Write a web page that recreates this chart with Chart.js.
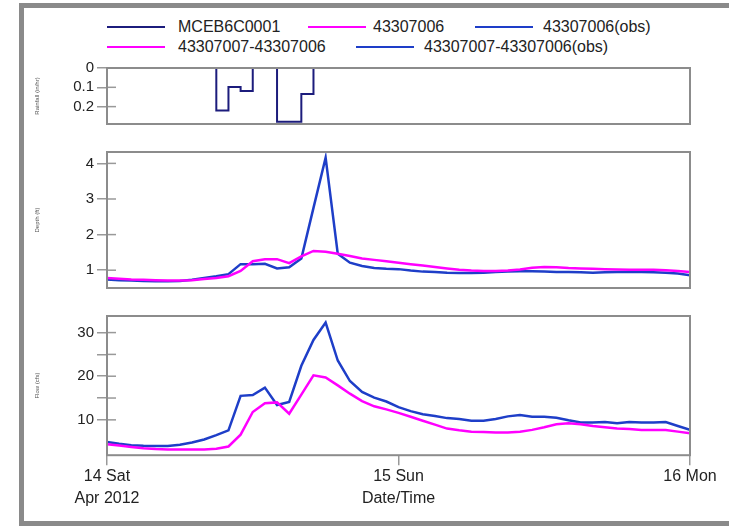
<!DOCTYPE html>
<html>
<head>
<meta charset="utf-8">
<script src="https://cdn.jsdelivr.net/npm/chart.js@4.4.1/dist/chart.umd.min.js"></script>
<style>
  html, body { margin: 0; padding: 0; background: #fff; }
  #page { position: relative; width: 729px; height: 526px; overflow: hidden; font-family: "Liberation Sans", Arial, sans-serif; }
  #frame { position: absolute; left: 19px; top: 3px; width: 760px; height: 513px; border: 5px solid #8a8a8a; border-right: none; }
  .lg { position: absolute; font-size: 16px; color: #222; white-space: nowrap; line-height: 20px; }
  .lg i { position: absolute; top: 9px; width: 58px; height: 2px; }
  canvas { position: absolute; left: 0; }
</style>
</head>
<body>
<div id="page">
  <div id="frame"></div>
  <div id="legend"></div>
  <canvas id="rainCanvas" width="729" height="80" style="top:56px"></canvas>
  <canvas id="depthCanvas" width="729" height="160" style="top:140px"></canvas>
  <canvas id="flowCanvas" width="729" height="214" style="top:304px"></canvas>
</div>
<script>
// --- data: hourly values, 14 Apr 2012 00:00 .. 16 Apr 2012 00:00 ---
const hours = Array.from({ length: 49 }, (_, i) => i);
const xTickHours = [0, 24, 48];
const xTickLabels = [["14 Sat", "Apr 2012"], "15 Sun", "16 Mon"];

// rainfall MCEB6C0001 (in/hr), value holds for the hour that starts at that point
const rainMCEB6C0001 = [
  0, 0, 0, 0, 0, 0, 0, 0, 0, 0.22, 0.099, 0.119, 0, 0, 0.278, 0.278, 0.134, 0,
  0, 0, 0, 0, 0, 0, 0, 0, 0, 0, 0, 0, 0, 0, 0, 0, 0, 0, 0, 0, 0, 0, 0, 0, 0, 0,
  0, 0, 0, 0, 0
];

// depth (ft) at 43307006
const depthModel = [
  0.78, 0.76, 0.74, 0.73, 0.72, 0.71, 0.71, 0.72, 0.75, 0.78, 0.83, 0.98, 1.25,
  1.31, 1.31, 1.20, 1.39, 1.54, 1.52, 1.46, 1.40, 1.33, 1.29, 1.25, 1.21, 1.17,
  1.13, 1.09, 1.05, 1.01, 0.99, 0.98, 0.98, 0.99, 1.02, 1.07, 1.09, 1.08, 1.06,
  1.05, 1.04, 1.03, 1.02, 1.01, 1.01, 1.01, 1.00, 0.98, 0.95
];
const depthObs = [
  0.74, 0.72, 0.71, 0.70, 0.69, 0.69, 0.70, 0.73, 0.78, 0.83, 0.89, 1.17, 1.17,
  1.18, 1.05, 1.08, 1.33, 2.75, 4.16, 1.46, 1.21, 1.12, 1.06, 1.04, 1.03, 0.99,
  0.96, 0.95, 0.93, 0.92, 0.92, 0.93, 0.95, 0.96, 0.97, 0.97, 0.96, 0.95, 0.95,
  0.94, 0.93, 0.94, 0.95, 0.95, 0.95, 0.94, 0.93, 0.91, 0.86
];

// flow (cfs) in link 43307007-43307006
const flowModel = [
  4.4, 4.1, 3.8, 3.5, 3.3, 3.2, 3.2, 3.2, 3.2, 3.4, 3.9, 6.6, 11.8, 13.8, 14.0,
  11.4, 15.8, 20.2, 19.7, 17.9, 16.0, 14.3, 13.1, 12.4, 11.6, 10.7, 9.8, 8.9,
  8.0, 7.6, 7.3, 7.2, 7.1, 7.1, 7.3, 7.7, 8.3, 9.0, 9.2, 9.0, 8.6, 8.3, 8.0, 7.9,
  7.7, 7.7, 7.7, 7.3, 6.9
];
const flowObs = [
  4.9, 4.5, 4.2, 4.05, 4.0, 4.0, 4.3, 4.8, 5.5, 6.5, 7.6, 15.5, 15.7, 17.4, 13.4,
  14.1, 22.4, 28.3, 32.3, 23.6, 18.9, 16.4, 15.1, 14.2, 12.9, 12.0, 11.3, 10.9,
  10.4, 10.2, 9.8, 9.8, 10.2, 10.8, 11.1, 10.7, 10.7, 10.5, 9.9, 9.4, 9.4, 9.5,
  9.2, 9.5, 9.4, 9.4, 9.5, 8.6, 7.7
];

const rainTicks = [0, 0.1, 0.2];
const depthTicks = [1, 2, 3, 4];
const flowTicks = [10, 15, 20, 25, 30];
const flowLabelled = [10, 20, 30];

const legendNames = ["MCEB6C0001", "43307006", "43307006(obs)", "43307007-43307006", "43307007-43307006(obs)"];

// --- styles ---
const NAVY = "#1c1c7c";
const PINK = "#ff00ff";
const BLUE = "#1e3ec8";
const legendColors = [NAVY, PINK, BLUE, PINK, BLUE];
const legendPos = [[107, 178, 17], [308, 373, 17], [475, 543, 17], [107, 178, 37], [356, 424, 37]];

Chart.defaults.font.family = '"Liberation Sans", Arial, sans-serif';
Chart.defaults.color = "#222";
Chart.defaults.animation = false;

// --- legend (HTML) ---
const legend = document.getElementById("legend");
legendNames.forEach((name, i) => {
  const [lineX, textX, top] = legendPos[i];
  const line = document.createElement("div");
  line.className = "lg";
  line.style.left = lineX + "px";
  line.style.top = top + "px";
  line.innerHTML = `<i style="left:0;background:${legendColors[i]}"></i>`;
  legend.appendChild(line);
  const txt = document.createElement("div");
  txt.className = "lg";
  txt.style.left = textX + "px";
  txt.style.top = top + "px";
  txt.textContent = name;
  legend.appendChild(txt);
});

// frame round each panel + the inner half of the y tick marks
const panelFrame = {
  id: "panelFrame",
  afterDatasetsDraw(chart) {
    const { ctx, chartArea: a, scales } = chart;
    ctx.save();
    ctx.strokeStyle = "#999";
    ctx.lineWidth = 1.5;
    scales.y.ticks.forEach(t => {
      const y = scales.y.getPixelForValue(t.value);
      ctx.beginPath();
      ctx.moveTo(a.left, y);
      ctx.lineTo(a.left + 9, y);
      ctx.stroke();
    });
    ctx.strokeStyle = "#8c8c8c";
    ctx.lineWidth = 2;
    ctx.strokeRect(a.left, a.top, a.right - a.left, a.bottom - a.top);
    ctx.restore();
  }
};

function points(values) {
  return values.map((v, i) => ({ x: hours[i], y: v }));
}

function yAxis(title, min, max, tickValues, labelFn, reverse) {
  return {
    min, max, reverse: !!reverse,
    afterFit: s => { s.width = 77; },
    afterBuildTicks: s => { s.ticks = tickValues.map(v => ({ value: v })); },
    border: { display: false },
    grid: { drawOnChartArea: false, drawTicks: true, tickLength: 10, color: "#999", lineWidth: 1.5 },
    ticks: { font: { size: 15 }, padding: 3, callback: labelFn },
    title: { display: true, text: title, font: { size: 6 }, color: "#555", padding: { top: 4, bottom: 0 } }
  };
}

function hiddenX() {
  return { type: "linear", min: 0, max: 48, display: false };
}

function lineSet(label, values, color) {
  return {
    label, data: points(values), borderColor: color, backgroundColor: color,
    borderWidth: 2.5, pointRadius: 0, tension: 0
  };
}

function baseOptions(padding, scales) {
  return {
    responsive: false,
    layout: { padding },
    plugins: { legend: { display: false }, tooltip: { enabled: false } },
    scales
  };
}

// RAINFALL panel
new Chart(document.getElementById("rainCanvas"), {
  type: "line",
  data: {
    datasets: [{ ...lineSet("MCEB6C0001", rainMCEB6C0001, NAVY), borderWidth: 2, stepped: true }]
  },
  options: baseOptions({ left: 30, right: 39, top: 10, bottom: 4 }, {
    x: hiddenX(),
    y: yAxis("Rainfall (in/hr)", 0, 0.29, rainTicks, v => String(v), true)
  }),
  plugins: [panelFrame]
});

// DEPTH panel
new Chart(document.getElementById("depthCanvas"), {
  type: "line",
  data: {
    datasets: [
      lineSet("43307006", depthModel, PINK),
      lineSet("43307006(obs)", depthObs, BLUE)
    ]
  },
  options: baseOptions({ left: 30, right: 39, top: 11, bottom: 5 }, {
    x: hiddenX(),
    y: yAxis("Depth (ft)", 0.5, 4.32, depthTicks, v => String(v))
  }),
  plugins: [panelFrame]
});

// FLOW panel
new Chart(document.getElementById("flowCanvas"), {
  type: "line",
  data: {
    datasets: [
      lineSet("43307007-43307006", flowModel, PINK),
      lineSet("43307007-43307006(obs)", flowObs, BLUE)
    ]
  },
  options: baseOptions({ left: 30, right: 39, top: 10, bottom: 8 }, {
    x: {
      type: "linear", min: 0, max: 48,
      afterBuildTicks: s => { s.ticks = xTickHours.map(v => ({ value: v })); },
      border: { display: false },
      grid: { drawOnChartArea: false, drawTicks: true, tickLength: 10, color: "#999", lineWidth: 1.5 },
      ticks: {
        autoSkip: false, maxRotation: 0, padding: 0,
        font: { size: 16, lineHeight: 1.4 },
        callback: (v, i) => xTickLabels[i]
      },
      title: {
        display: true, text: "Date/Time",
        font: { size: 16, lineHeight: 1.4 },
        padding: { top: -22.4, bottom: 0 }
      }
    },
    y: yAxis("Flow (cfs)", 1.9, 33.8, flowTicks, v => flowLabelled.includes(v) ? String(v) : "")
  }),
  plugins: [panelFrame]
});
</script>
</body>
</html>
